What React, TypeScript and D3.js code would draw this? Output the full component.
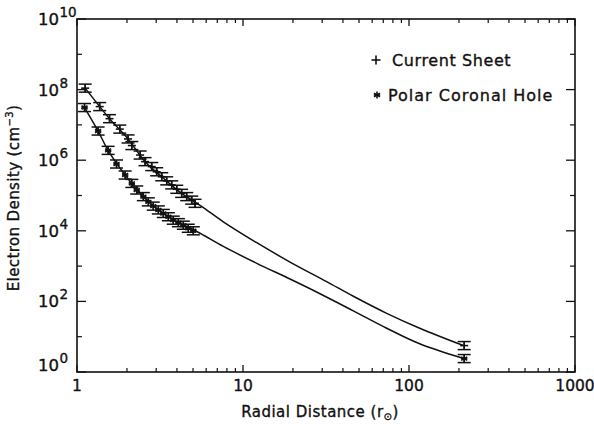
import React from "react";
import * as d3 from "d3";

const W = 594;
const H = 429;

// Data
const csPoints: [number, number][] = [
  [1.12, 1.1e8], [1.37, 3.3e7], [1.57, 1.5e7], [1.81, 7.6e6], [2.03, 4.0e6],
  [2.14, 2.6e6], [2.4, 1.4e6], [2.57, 9.1e5], [2.82, 6.6e5], [3.02, 4.7e5],
  [3.24, 3.4e5], [3.47, 2.6e5], [3.72, 2.0e5], [3.99, 1.5e5], [4.27, 1.15e5],
  [4.58, 9.3e4], [4.91, 7.4e4], [5.14, 6.0e4], [215, 5.6],
];
const phPoints: [number, number][] = [
  [1.11, 3.1e7], [1.34, 6.7e6], [1.54, 1.9e6], [1.73, 7.8e5], [1.95, 3.8e5],
  [2.14, 2.2e5], [2.29, 1.43e5], [2.51, 9.3e4], [2.69, 6.6e4], [2.88, 5.0e4],
  [3.09, 3.9e4], [3.31, 3.1e4], [3.55, 2.5e4], [3.8, 2.0e4], [4.08, 1.7e4],
  [4.37, 1.44e4], [4.68, 1.18e4], [5.02, 1.0e4], [215, 2.4],
];
const csLine: [number, number][] = [
  [1.12, 1.1e8], [1.37, 3.3e7], [1.57, 1.5e7], [2.03, 4.0e6], [2.57, 9.1e5],
  [3.24, 3.4e5], [4.27, 1.15e5], [5.6, 5.0e4], [7.61, 1.8e4], [12.1, 4.6e3],
  [19.2, 1.3e3], [31.9, 363], [46.2, 140], [73.4, 46], [116, 17.4],
  [211, 5.7],
];
const phLine: [number, number][] = [
  [1.11, 3.1e7], [1.34, 6.7e6], [1.54, 1.9e6], [1.95, 3.8e5], [2.51, 9.3e4],
  [3.09, 3.9e4], [4.08, 1.7e4], [5.3, 9.4e3], [7.61, 3.6e3], [12.1, 1.2e3],
  [19.2, 430], [29.1, 165], [46.2, 54], [73.4, 17.4], [116, 6.3],
  [211, 2.45],
];
const errFactor = 1.3;
const xMajor = [1, 10, 100, 1000];
const xTickLabels = ["1", "10", "100", "1000"];
const yMajorExp = [0, 2, 4, 6, 8, 10];
const yMinorExp = [1, 3, 5, 7, 9];
const legendLabels = ["Current Sheet", "Polar Coronal Hole"];

const FONT = "'DejaVu Sans', 'Liberation Sans', sans-serif";
const INK = "#111";
const TXT = { fill: INK, stroke: INK, strokeWidth: 0.35 };

export default function App() {
  const x = d3.scaleLog().domain([1, 1000]).range([77, 575]);
  const y = d3.scaleLog().domain([1, 1e10]).range([372, 19]);
  const [x0, x1] = x.range();
  const [y0, y1] = y.range();

  const line = d3
    .line<[number, number]>()
    .x((d) => x(d[0]))
    .y((d) => y(d[1]))
    .curve(d3.curveCatmullRom.alpha(0.5));

  const xMinor: number[] = [];
  [1, 10, 100].forEach((b) => {
    for (let k = 2; k <= 9; k++) xMinor.push(b * k);
  });

  const errBar = (d: [number, number], i: number, key: string) => {
    const cx = x(d[0]);
    const yt = y(d[1] * errFactor);
    const yb = y(d[1] / errFactor);
    return (
      <g key={key + i}>
        <line x1={cx} x2={cx} y1={yt} y2={yb} stroke={INK} strokeWidth={1.3} />
        <line x1={cx - 6.5} x2={cx + 6.5} y1={yt} y2={yt} stroke={INK} strokeWidth={1.5} />
        <line x1={cx - 6.5} x2={cx + 6.5} y1={yb} y2={yb} stroke={INK} strokeWidth={1.5} />
      </g>
    );
  };

  const plus = (cx: number, cy: number, s: number, key: string) => (
    <g key={key}>
      <line x1={cx - s} x2={cx + s} y1={cy} y2={cy} stroke={INK} strokeWidth={1.6} />
      <line x1={cx} x2={cx} y1={cy - s} y2={cy + s} stroke={INK} strokeWidth={1.6} />
    </g>
  );
  const star = (cx: number, cy: number, s: number, key: string) => (
    <g key={key}>
      {[0, 60, 120].map((a) => {
        const r = (a * Math.PI) / 180;
        return (
          <line
            key={a}
            x1={cx - s * Math.sin(r)}
            x2={cx + s * Math.sin(r)}
            y1={cy - s * Math.cos(r)}
            y2={cy + s * Math.cos(r)}
            stroke={INK}
            strokeWidth={1.6}
          />
        );
      })}
      <line x1={cx - s * 0.9} x2={cx + s * 0.9} y1={cy} y2={cy} stroke={INK} strokeWidth={1.6} />
    </g>
  );

  return (
    <svg
      width={W}
      height={H}
      style={{ position: "absolute", left: 0, top: 0, background: "#fff" }}
      fontFamily={FONT}
    >
      <rect width={W} height={H} fill="#fff" />
      {/* frame */}
      <rect x={x0} y={y1} width={x1 - x0} height={y0 - y1} fill="none" stroke={INK} strokeWidth={1.6} />

      {/* x ticks */}
      {xMajor.map((v) => (
        <g key={"xm" + v}>
          <line x1={x(v)} x2={x(v)} y1={y0} y2={y0 - 7} stroke={INK} strokeWidth={1.3} />
          <line x1={x(v)} x2={x(v)} y1={y1} y2={y1 + 7} stroke={INK} strokeWidth={1.3} />
        </g>
      ))}
      {xMinor.map((v) => (
        <g key={"xn" + v}>
          <line x1={x(v)} x2={x(v)} y1={y0} y2={y0 - 4} stroke={INK} strokeWidth={1.2} />
          <line x1={x(v)} x2={x(v)} y1={y1} y2={y1 + 4} stroke={INK} strokeWidth={1.2} />
        </g>
      ))}
      {xMajor.map((v, i) => (
        <text key={"xl" + v} x={x(v)} y={391} textAnchor="middle" fontSize={15.5} {...TXT}>
          {xTickLabels[i]}
        </text>
      ))}

      {/* y ticks */}
      {yMajorExp.map((e) => (
        <g key={"ym" + e}>
          <line x1={x0} x2={x0 + 9} y1={y(10 ** e)} y2={y(10 ** e)} stroke={INK} strokeWidth={1.3} />
          <line x1={x1} x2={x1 - 9} y1={y(10 ** e)} y2={y(10 ** e)} stroke={INK} strokeWidth={1.3} />
        </g>
      ))}
      {yMinorExp.map((e) => (
        <g key={"yn" + e}>
          <line x1={x0} x2={x0 + 5} y1={y(10 ** e)} y2={y(10 ** e)} stroke={INK} strokeWidth={1.2} />
          <line x1={x1} x2={x1 - 5} y1={y(10 ** e)} y2={y(10 ** e)} stroke={INK} strokeWidth={1.2} />
        </g>
      ))}
      {yMajorExp.map((e) => {
        const ty = y(10 ** e) + (e === 0 ? -1 : 6);
        return (
          <g key={"yl" + e}>
            <text x={59} y={ty} textAnchor="end" fontSize={16.5} {...TXT}>
              10
            </text>
            <text x={59.5} y={ty - 8} textAnchor="start" fontSize={13.5} {...TXT}>
              {e}
            </text>
          </g>
        );
      })}

      {/* axis titles */}
      <text
        transform="translate(19,198) rotate(-90)"
        textAnchor="middle"
        fontSize={15}
        letterSpacing={0.4}
        {...TXT}
      >
        Electron Density (cm
        <tspan fontSize={10} dy={-6}>
          −3
        </tspan>
        <tspan dy={6}>)</tspan>
      </text>
      <text x={320} y={417} textAnchor="middle" fontSize={15} letterSpacing={0.5} {...TXT}>
        Radial Distance (r
        <tspan fontSize={10} dy={3}>
          ⊙
        </tspan>
        <tspan dy={-3}>)</tspan>
      </text>

      {/* curves */}
      <path d={line(csLine) || ""} fill="none" stroke={INK} strokeWidth={1.5} />
      <path d={line(phLine) || ""} fill="none" stroke={INK} strokeWidth={1.5} />

      {/* points */}
      {csPoints.map((d, i) => errBar(d, i, "ce"))}
      {phPoints.map((d, i) => errBar(d, i, "pe"))}
      {csPoints.map((d, i) => plus(x(d[0]), y(d[1]), 4, "cp" + i))}
      {phPoints.map((d, i) => star(x(d[0]), y(d[1]), 3.5, "ps" + i))}

      {/* legend */}
      {plus(376, 60, 4.5, "lg1")}
      <text x={392} y={66} fontSize={16} letterSpacing={0.6} {...TXT}>
        {legendLabels[0]}
      </text>
      {star(377, 95, 3.5, "lg2")}
      <text x={388} y={101} fontSize={16} letterSpacing={1.0} {...TXT}>
        {legendLabels[1]}
      </text>
    </svg>
  );
}
